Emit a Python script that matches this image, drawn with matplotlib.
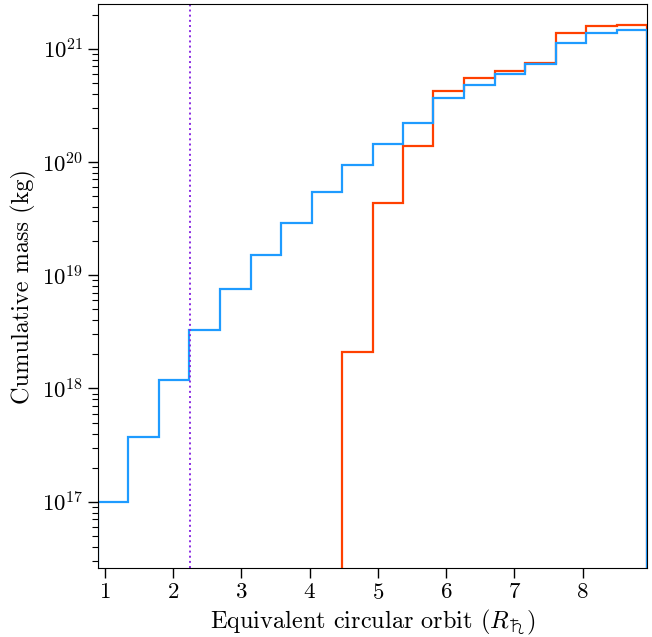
import numpy as np
import matplotlib
matplotlib.use("Agg")
import matplotlib.pyplot as plt

plt.rcParams['font.family'] = 'serif'
plt.rcParams['font.serif'] = ['cmr10', 'DejaVu Serif']
plt.rcParams['mathtext.fontset'] = 'cm'
plt.rcParams['axes.formatter.use_mathtext'] = True
plt.rcParams['axes.unicode_minus'] = False

# bin edges in Saturn radii
edges = [0.897, 1.344, 1.791, 2.238, 2.686, 3.133, 3.580, 4.027, 4.474,
         4.921, 5.368, 5.815, 6.263, 6.710, 7.157, 7.604, 8.051, 8.498, 8.945]

# cumulative mass (kg)
mass_blue = [1.0e17, 3.75e17, 1.19e18, 3.27e18, 7.48e18, 1.52e19, 2.9e19, 5.43e19,
             9.4e19, 1.43e20, 2.2e20, 3.7e20, 4.79e20, 5.94e20, 7.28e20,
             1.13e21, 1.38e21, 1.46e21]
# red starts at the 9th bin (4.474)
red_start = 8
mass_red = [2.08e18, 4.3e19, 1.38e20, 4.24e20, 5.45e20, 6.37e20, 7.45e20,
            1.38e21, 1.6e21, 1.63e21]

roche = 2.24

fig = plt.figure(figsize=(6.52, 6.37), dpi=100)
ax = fig.add_axes([98/652, 1 - 568/637, 549/652, 564/637])

ax.stairs(mass_red, edges[red_start:], baseline=1e10, color='#ff4000', lw=1.6)
ax.stairs(mass_blue, edges, baseline=1e10, color='#1e9bff', lw=1.6)
ax.axvline(roche, color='#8a2be2', ls=':', lw=1.4)

ax.set_yscale('log')
ax.set_xlim(edges[0], edges[-1])
ax.set_ylim(10**16.415, 10**21.394)
ax.set_xticks([1, 2, 3, 4, 5, 6, 7, 8])

ax.tick_params(which='major', direction='out', length=7, width=1, labelsize=16.5)
ax.tick_params(which='minor', direction='out', length=4, width=0.8)
ax.tick_params(axis='x', which='minor', bottom=False)

ax.set_xlabel('Equivalent circular orbit ($R_{\u2644}$)', fontsize=17.5)
ax.set_ylabel('Cumulative mass (kg)', fontsize=17.5)

fig.savefig('out.png', dpi=100)
